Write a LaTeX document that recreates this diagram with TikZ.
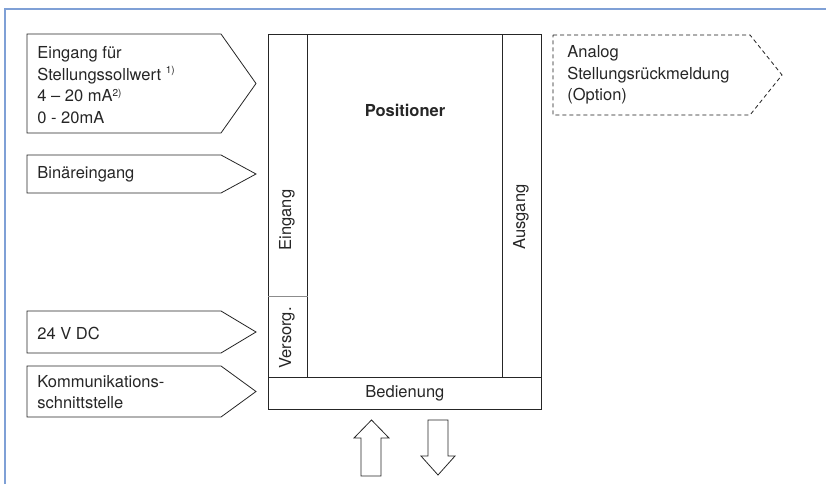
\documentclass[tikz,border=0pt]{standalone}
\usepackage{fontspec}
\setmainfont{TeX Gyre Heros}
\usetikzlibrary{shapes, arrows, positioning}
\definecolor{framecol}{RGB}{127,160,214}

\begin{document}
\begin{tikzpicture}[x=1pt, y=-1pt, line width=0.8pt, draw=black!85,
        txt/.style={inner sep=0pt, align=left, anchor=west, text=black!85, font=\fontsize{16.5}{21.5}\selectfont},
        sup/.style={},
        part/.style={draw=black!85, rectangle, inner sep=0pt, anchor=north west},
        sig/.style={draw=black!85, line join=miter},
        opt/.style={draw=black!90, dash pattern=on 4pt off 3pt}]
        \useasboundingbox (0,0) rectangle (826,484);

        % Draw the frame
        \draw [draw=framecol, line width=1.2pt] (5,484) -- (5,9) -- (826,9);

        % Draw the blocks
        \node (pos)  [part, minimum width=273, minimum height=375] at (268,34) {};
        \node (eing) [part, minimum width=39, minimum height=262] at (268,34) {};
        \node (vers) [part, minimum width=39, minimum height=81] at (268,296) {};
        \node (ausg) [part, minimum width=39, minimum height=343] at (502,34) {};
        \node (bed)  [part, minimum width=273, minimum height=32] at (268,377) {};
        \draw [draw=black!45] (eing.south west) -- (eing.south east);

        % Add the labels of the blocks
        \node (postxt)  [txt, anchor=center, font=\fontsize{16.5}{21.5}\selectfont\bfseries] at (405,110) {Positioner};
        \node (eingtxt) [txt, anchor=center, rotate=90] at (287,220) {Eingang};
        \node (verstxt) [txt, anchor=center, rotate=90] at (287,338) {Versorg.};
        \node (ausgtxt) [txt, anchor=center, rotate=90] at (521,217) {Ausgang};
        \node (bedtxt)  [txt, anchor=center] at (bed.center) {Bedienung};

        % Draw the signals
        \draw [sig] (27,34) -- (221,34) -- (256,83.5) -- (221,133) -- (27,133) -- cycle;
        \draw [sig] (27,155) -- (221,155) -- (256,174) -- (221,193) -- (27,193) -- cycle;
        \draw [sig] (27,311) -- (221,311) -- (256,332) -- (221,353) -- (27,353) -- cycle;
        \draw [sig] (27,366) -- (221,366) -- (256,391.5) -- (221,417) -- (27,417) -- cycle;
        \draw [opt] (553,35) -- (750,35) -- (782,75) -- (750,115) -- (553,115) -- cycle;

        % Add the texts of the signals
        \node (soll)  [txt] at (37,85) {Eingang f\"ur\\Stellungssollwert \raisebox{7pt}{\fontsize{10}{10}\selectfont 1)}\\4 -- 20 mA\raisebox{5pt}{\fontsize{10}{10}\selectfont 2)}\\0 - 20mA};
        \node (bin)   [txt] at (37,174) {Bin\"areingang};
        \node (dc)    [txt] at (37,333) {24 V DC};
        \node (komm)  [txt] at (37,392) {Kommunikations-\\schnittstelle};
        \node (rueck) [txt] at (567,75) {Analog\\Stellungsr\"uckmeldung\\(Option)};

        % Draw the arrows below the operating part
        \draw [sig] (361,476) -- (361,438) -- (354,438) -- (371.5,420) -- (389,438) -- (381,438) -- (381,476) -- cycle;
        \draw [sig] (428,420) -- (448,420) -- (448,456) -- (455,456) -- (438,475) -- (421,456) -- (428,456) -- cycle;
    \end{tikzpicture}
\end{document}
